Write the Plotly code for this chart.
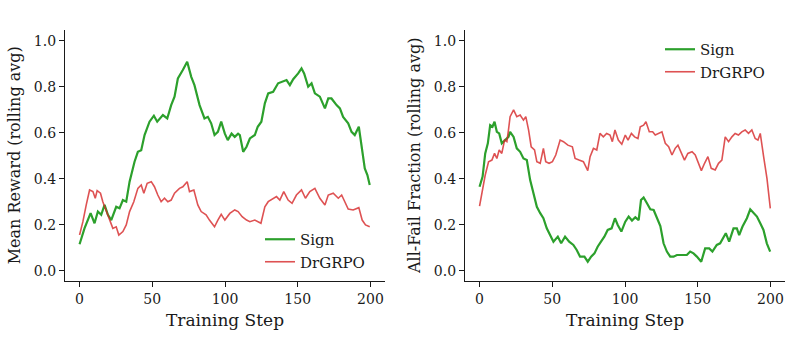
import plotly.graph_objects as go

# ---------------- data ----------------
reward_sign_steps = [0, 3.4, 7.6, 10.3, 12.6, 14.9, 17.2, 19.5, 21.8, 25.2, 27.5, 29.8, 32.1, 34.4, 37.8,
                     40.1, 42.4, 44.7, 48.1, 51.1, 53.4, 57.3, 60.3, 63, 65.3, 67.6, 71, 74, 76.8, 79,
                     82.5, 85.9, 88.2, 90.5, 92.8, 95.1, 97.4, 99.9, 101.9, 104.5, 106.7, 109, 110.2,
                     112.5, 114.8, 117.1, 120.5, 122.5, 125, 127.4, 129.7, 133.1, 136.5, 140, 142.3,
                     144.6, 146.9, 150.3, 152.6, 154.4, 157.2, 159.5, 161.8, 165.2, 168.7, 171, 173.2,
                     176.7, 179, 181.2, 184.7, 187, 189.2, 192, 193.8, 196.1, 197.9, 199.5]
reward_sign = [0.115, 0.184, 0.25, 0.206, 0.257, 0.243, 0.286, 0.243, 0.22, 0.278, 0.271, 0.307, 0.30,
               0.387, 0.474, 0.517, 0.524, 0.59, 0.648, 0.674, 0.648, 0.677, 0.662, 0.72, 0.757, 0.836,
               0.873, 0.909, 0.843, 0.807, 0.72, 0.662, 0.669, 0.641, 0.59, 0.604, 0.648, 0.596, 0.568,
               0.596, 0.582, 0.596, 0.59, 0.517, 0.539, 0.575, 0.59, 0.626, 0.648, 0.728, 0.771, 0.778,
               0.815, 0.822, 0.829, 0.807, 0.833, 0.858, 0.88, 0.858, 0.80, 0.815, 0.771, 0.757, 0.706,
               0.749, 0.749, 0.72, 0.706, 0.669, 0.641, 0.604, 0.59, 0.626, 0.546, 0.445, 0.416, 0.373]

reward_drgrpo_steps = [0, 2.3, 4.6, 6.9, 9.2, 10.8, 12.1, 14.4, 16, 18.3, 20.6, 22.9, 25.2, 27, 29.8,
                       32.1, 34.4, 37.3, 40.1, 42.4, 44.2, 46.5, 49.3, 51.5, 53.8, 56.1, 58.4, 60.7, 63,
                       65.3, 68.7, 71, 74, 75.6, 78.6, 81.3, 83.6, 87, 89.3, 92.8, 95.1, 97.4, 99.9,
                       103.3, 106.7, 109, 111.8, 114.8, 117.1, 120.5, 124.7, 127.4, 129.7, 133.1, 135.4,
                       137.7, 140.4, 143.4, 146.1, 149.1, 152.6, 155.3, 158.3, 161.8, 165.2, 168.7, 171,
                       174.4, 177.9, 180.2, 184.7, 188.1, 192, 194.3, 196.6, 199.5]
reward_drgrpo = [0.155, 0.213, 0.286, 0.351, 0.344, 0.315, 0.348, 0.337, 0.30, 0.264, 0.228, 0.184,
                 0.191, 0.155, 0.17, 0.199, 0.257, 0.30, 0.358, 0.373, 0.337, 0.38, 0.387, 0.365, 0.329,
                 0.30, 0.315, 0.30, 0.307, 0.337, 0.358, 0.365, 0.387, 0.344, 0.351, 0.286, 0.257, 0.243,
                 0.22, 0.191, 0.22, 0.245, 0.22, 0.249, 0.264, 0.257, 0.235, 0.22, 0.213, 0.22, 0.206,
                 0.278, 0.30, 0.315, 0.322, 0.307, 0.344, 0.307, 0.293, 0.329, 0.351, 0.315, 0.344,
                 0.358, 0.315, 0.286, 0.329, 0.337, 0.315, 0.329, 0.268, 0.264, 0.274, 0.22, 0.199, 0.191]

fail_sign_steps = [0, 2.1, 3.9, 5.7, 7.3, 8.9, 10.3, 11.9, 13.5, 15.3, 17.6, 19.9, 21, 23.4, 25.6, 27.9,
                   30.2, 32.5, 34.8, 37.1, 39.4, 41.7, 43.9, 46.2, 48.5, 50.8, 53.8, 56.1, 58.8, 61.6,
                   64.5, 66.8, 69.1, 72.1, 74.4, 76.7, 79, 81.2, 83.5, 85.8, 88.1, 90.8, 93.1, 95,
                   97.5, 100.2, 102.5, 104.8, 107.1, 109.4, 111, 112.8, 115.1, 117.4, 119.7, 122,
                   124.3, 126.5, 128.8, 131.1, 133.4, 135.7, 139.1, 142.5, 144.8, 147.1, 149.4, 152.4,
                   155.1, 157.9, 160.1, 163.1, 165.4, 167.7, 169.3, 171.6, 174.6, 176.9, 178.5, 180.8,
                   183.8, 186.1, 188.4, 190.7, 193, 195.2, 197.5, 199.8]
fail_sign = [0.365, 0.409, 0.51, 0.554, 0.633, 0.626, 0.648, 0.604, 0.597, 0.554, 0.568, 0.582, 0.604,
             0.582, 0.532, 0.517, 0.488, 0.481, 0.394, 0.329, 0.278, 0.25, 0.228, 0.184, 0.155, 0.126,
             0.148, 0.119, 0.148, 0.126, 0.112, 0.09, 0.061, 0.061, 0.039, 0.061, 0.075, 0.104, 0.126,
             0.148, 0.177, 0.184, 0.228, 0.199, 0.17, 0.213, 0.235, 0.218, 0.232, 0.22, 0.307, 0.318,
             0.293, 0.267, 0.264, 0.228, 0.194, 0.119, 0.083, 0.061, 0.061, 0.068, 0.068, 0.068, 0.083,
             0.075, 0.061, 0.039, 0.097, 0.097, 0.083, 0.112, 0.119, 0.148, 0.163, 0.126, 0.184, 0.184,
             0.155, 0.192, 0.228, 0.267, 0.25, 0.235, 0.206, 0.177, 0.119, 0.083]

fail_drgrpo_steps = [0, 2.1, 3.9, 6.2, 8.5, 10.3, 11.9, 13.5, 15.3, 17.2, 18.8, 19.9, 21, 23.4, 25.6,
                     27.9, 30.2, 31.8, 33.7, 35.5, 37.8, 39.4, 41.7, 43.9, 45.5, 47.8, 50.1, 52.4, 55.4,
                     57.7, 60.7, 63.8, 65.7, 68.4, 71.4, 74.4, 76, 78.3, 80.6, 82.8, 85.1, 87.4, 89.7,
                     91.3, 93.1, 95.4, 97.8, 100.2, 102.1, 104.4, 106.6, 108.9, 110.5, 112.8, 114.4,
                     116.7, 119, 120.8, 123.1, 125.4, 127.7, 130, 132.3, 134.5, 136.4, 138.6, 140.9,
                     143.2, 146.1, 148.3, 150.6, 152.5, 154.7, 157, 159.3, 162, 164.3, 166.6, 168.9,
                     171.2, 173.5, 175.7, 178, 180.3, 182.6, 184.9, 187.2, 189.5, 191.4, 193, 195.3,
                     197.6, 199.9]
fail_drgrpo = [0.281, 0.351, 0.416, 0.474, 0.481, 0.51, 0.488, 0.525, 0.51, 0.568, 0.561, 0.612, 0.67,
               0.699, 0.67, 0.677, 0.655, 0.67, 0.612, 0.539, 0.525, 0.474, 0.467, 0.532, 0.474, 0.467,
               0.474, 0.503, 0.568, 0.561, 0.546, 0.539, 0.488, 0.481, 0.474, 0.435, 0.496, 0.532,
               0.525, 0.597, 0.582, 0.597, 0.59, 0.561, 0.612, 0.568, 0.55, 0.59, 0.568, 0.597, 0.582,
               0.575, 0.626, 0.633, 0.648, 0.604, 0.604, 0.59, 0.597, 0.604, 0.554, 0.539, 0.503,
               0.532, 0.546, 0.51, 0.481, 0.51, 0.517, 0.503, 0.467, 0.435, 0.467, 0.496, 0.445,
               0.438, 0.467, 0.481, 0.582, 0.561, 0.582, 0.597, 0.59, 0.604, 0.612, 0.597, 0.612,
               0.575, 0.568, 0.597, 0.496, 0.401, 0.271]

x_ticks = [0, 50, 100, 150, 200]
y_ticks = [0.0, 0.2, 0.4, 0.6, 0.8, 1.0]
series_names = ["Sign", "DrGRPO"]
x_title = "Training Step"
y_titles = ["Mean Reward (rolling avg)", "All-Fail Fraction (rolling avg)"]

GREEN = "#2ca02c"
RED = "rgba(214,39,40,0.8)"
FONT = "DejaVu Serif"
INK = "#1a1a1a"
W, H = 792, 338

fig = go.Figure()
fig.add_trace(go.Scatter(x=reward_sign_steps, y=reward_sign, mode="lines", name=series_names[0],
                         line=dict(color=GREEN, width=2.2), xaxis="x", yaxis="y", legend="legend"))
fig.add_trace(go.Scatter(x=reward_drgrpo_steps, y=reward_drgrpo, mode="lines", name=series_names[1],
                         line=dict(color=RED, width=1.6), xaxis="x", yaxis="y", legend="legend"))
fig.add_trace(go.Scatter(x=fail_sign_steps, y=fail_sign, mode="lines", name=series_names[0],
                         line=dict(color=GREEN, width=2.2), xaxis="x2", yaxis="y2", legend="legend2"))
fig.add_trace(go.Scatter(x=fail_drgrpo_steps, y=fail_drgrpo, mode="lines", name=series_names[1],
                         line=dict(color=RED, width=1.6), xaxis="x2", yaxis="y2", legend="legend2"))

ydom = [(H - 281) / H, (H - 29.5) / H]
common_x = dict(range=[-10, 210], tickvals=x_ticks, ticks="outside", ticklen=5, tickwidth=1.2,
                tickcolor=INK, showline=True, linecolor=INK, linewidth=1.3, showgrid=False,
                zeroline=False, tickfont=dict(family=FONT, size=14, color=INK),
                title=dict(text=x_title, font=dict(family=FONT, size=17, color=INK), standoff=8))
common_y = dict(range=[-0.045, 1.049], tickvals=y_ticks, tickformat=".1f", ticks="outside", ticklen=5,
                tickwidth=1.2, tickcolor=INK, showline=True, linecolor=INK, linewidth=1.3,
                showgrid=False, zeroline=False, domain=ydom,
                tickfont=dict(family=FONT, size=14, color=INK))
ytitle_font = dict(family=FONT, size=16, color=INK)

fig.update_layout(
    width=W, height=H, margin=dict(l=0, r=0, t=0, b=0),
    paper_bgcolor="white", plot_bgcolor="white",
    font=dict(family=FONT, color=INK),
    xaxis=dict(domain=[65 / W, 385 / W], anchor="y", **common_x),
    xaxis2=dict(domain=[465 / W, 785 / W], anchor="y2", **common_x),
    yaxis=dict(anchor="x", title=dict(text=y_titles[0], font=ytitle_font, standoff=9), **common_y),
    yaxis2=dict(anchor="x2", title=dict(text=y_titles[1], font=ytitle_font, standoff=9), **common_y),
    legend=dict(x=260 / W, y=(H - 223) / H, xanchor="left", yanchor="top", bgcolor="rgba(0,0,0,0)",
                font=dict(family=FONT, size=15, color=INK)),
    legend2=dict(x=660 / W, y=(H - 33) / H, xanchor="left", yanchor="top", bgcolor="rgba(0,0,0,0)",
                 font=dict(family=FONT, size=15, color=INK)),
)

fig.write_html("out.html")
